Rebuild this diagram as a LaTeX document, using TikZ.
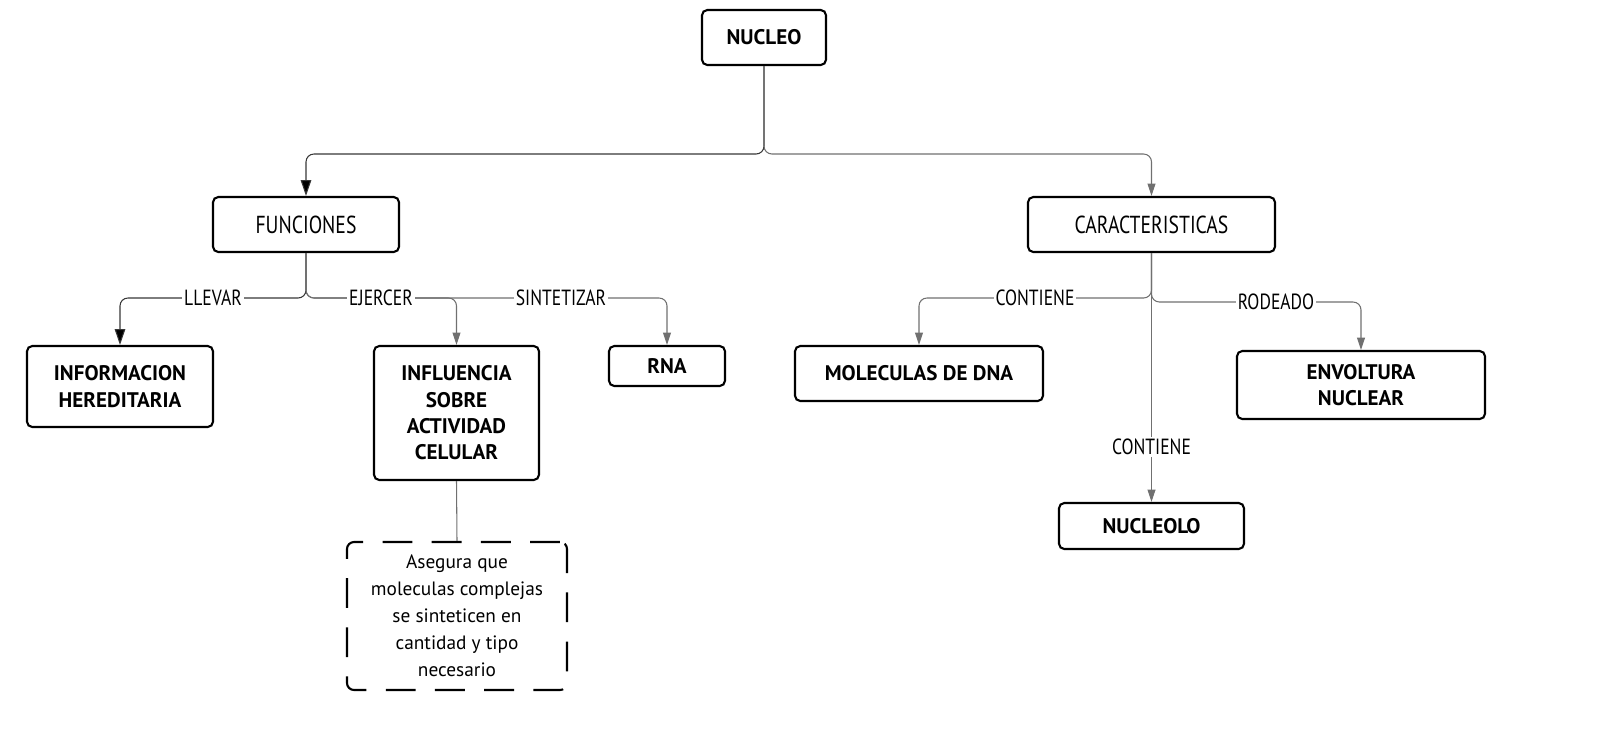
\documentclass[tikz,border=0pt]{standalone}
\usepackage{fontspec}
\setmainfont{PT Sans}
\newfontfamily\thinfont[FakeStretch=0.8]{PT Sans}
\usetikzlibrary{arrows.meta}
\definecolor{linkgray}{RGB}{112,112,112}
\definecolor{linkdark}{RGB}{55,55,55}

\begin{document}
\begin{tikzpicture}[
		x=0.02cm, y=-0.02cm,
		concept/.style	={ draw=black, line width=1.2pt,
			rounded corners=3pt, fill=white,
			font=\bfseries\fontsize{12}{15}\selectfont,
			align=center, inner sep=0pt
		},
		topic/.style	={ concept, font=\thinfont\fontsize{14}{16}\selectfont },
		note/.style		={ draw=black, line width=1.2pt,
			rounded corners=4pt, dash pattern=on 17pt off 11pt,
			font=\fontsize{11}{15.4}\selectfont,
			align=center, inner sep=0pt
		},
		size/.style 2 args	={ minimum width=#1*0.02cm, minimum height=#2*0.02cm },
		link/.style		={ draw=linkgray, line width=0.6pt, rounded corners=4.5pt,
			-{Triangle[length=7pt, width=4.5pt]}
		},
		strong/.style	={ link, draw=linkdark,
			-{Triangle[length=9pt, width=6pt, fill=black]}
		},
		lbl/.style		={ fill=white, inner sep=1pt,
			font=\thinfont\fontsize{12.5}{14}\selectfont
		},
	]
	\useasboundingbox (0,0) rectangle (1616,752);

	% declare concept boxes
	\node (nucleo) [concept, size={124}{55}] at (764,37.5) {NUCLEO};
	\node (funciones) [topic, size={186}{55}] at (306,224.5) {FUNCIONES};
	\node (caract) [topic, size={247}{55}] at (1151.5,224.5) {CARACTERISTICAS};

	\node (info) [concept, size={186}{81}] at (120,386.5) {INFORMACION\\HEREDITARIA};
	\node (influ) [concept, size={165}{134}] at (456.5,413) {INFLUENCIA\\SOBRE\\ACTIVIDAD\\CELULAR};
	\node (rna) [concept, size={116}{40}] at (667,366) {RNA};
	\node (dna) [concept, size={248}{55}] at (919,373.5) {MOLECULAS DE DNA};
	\node (envol) [concept, size={248}{68}] at (1361,385) {ENVOLTURA\\NUCLEAR};
	\node (nucleolo) [concept, size={185}{46}] at (1151.5,526) {NUCLEOLO};

	\node (asegura) [note, size={220}{148}] at (457,616)
		{Asegura que\\moleculas complejas\\se sinteticen en\\cantidad y tipo\\necesario};

	% junction points
	\coordinate (forkN) at (764,154);
	\coordinate (forkF) at (306,298);
	\coordinate (forkC) at (1151.5,298);
	\coordinate (forkR) at (1151.5,302);

	% draw connectors
	\draw [strong] (nucleo.south) -- (forkN) -| (funciones.north);
	\draw [link] (nucleo.south) -- (forkN) -| (caract.north);

	\draw [strong] (funciones.south) -- (forkF) -| (info.north);
	\draw [link] (funciones.south) -- (forkF) -| (influ.north);
	\draw [link] (funciones.south) -- (forkF) -| (rna.north);

	\draw [link] (caract.south) -- (forkC) -| (dna.north);
	\draw [link] (caract.south) -- (forkR) -| (envol.north);
	\draw [link] (caract.south) -- (nucleolo.north);

	\draw [draw=linkgray, line width=0.6pt] (influ.south) -- (asegura.north);

	% labels on connectors
	\node (lLlevar) [lbl] at (213,298) {LLEVAR};
	\node (lEjercer) [lbl] at (381,298) {EJERCER};
	\node (lSint) [lbl] at (561,298) {SINTETIZAR};
	\node (lCont) [lbl] at (1035,298) {CONTIENE};
	\node (lRode) [lbl] at (1276,302) {RODEADO};
	\node (lCont2) [lbl] at (1151.5,447) {CONTIENE};

\end{tikzpicture}
\end{document}
